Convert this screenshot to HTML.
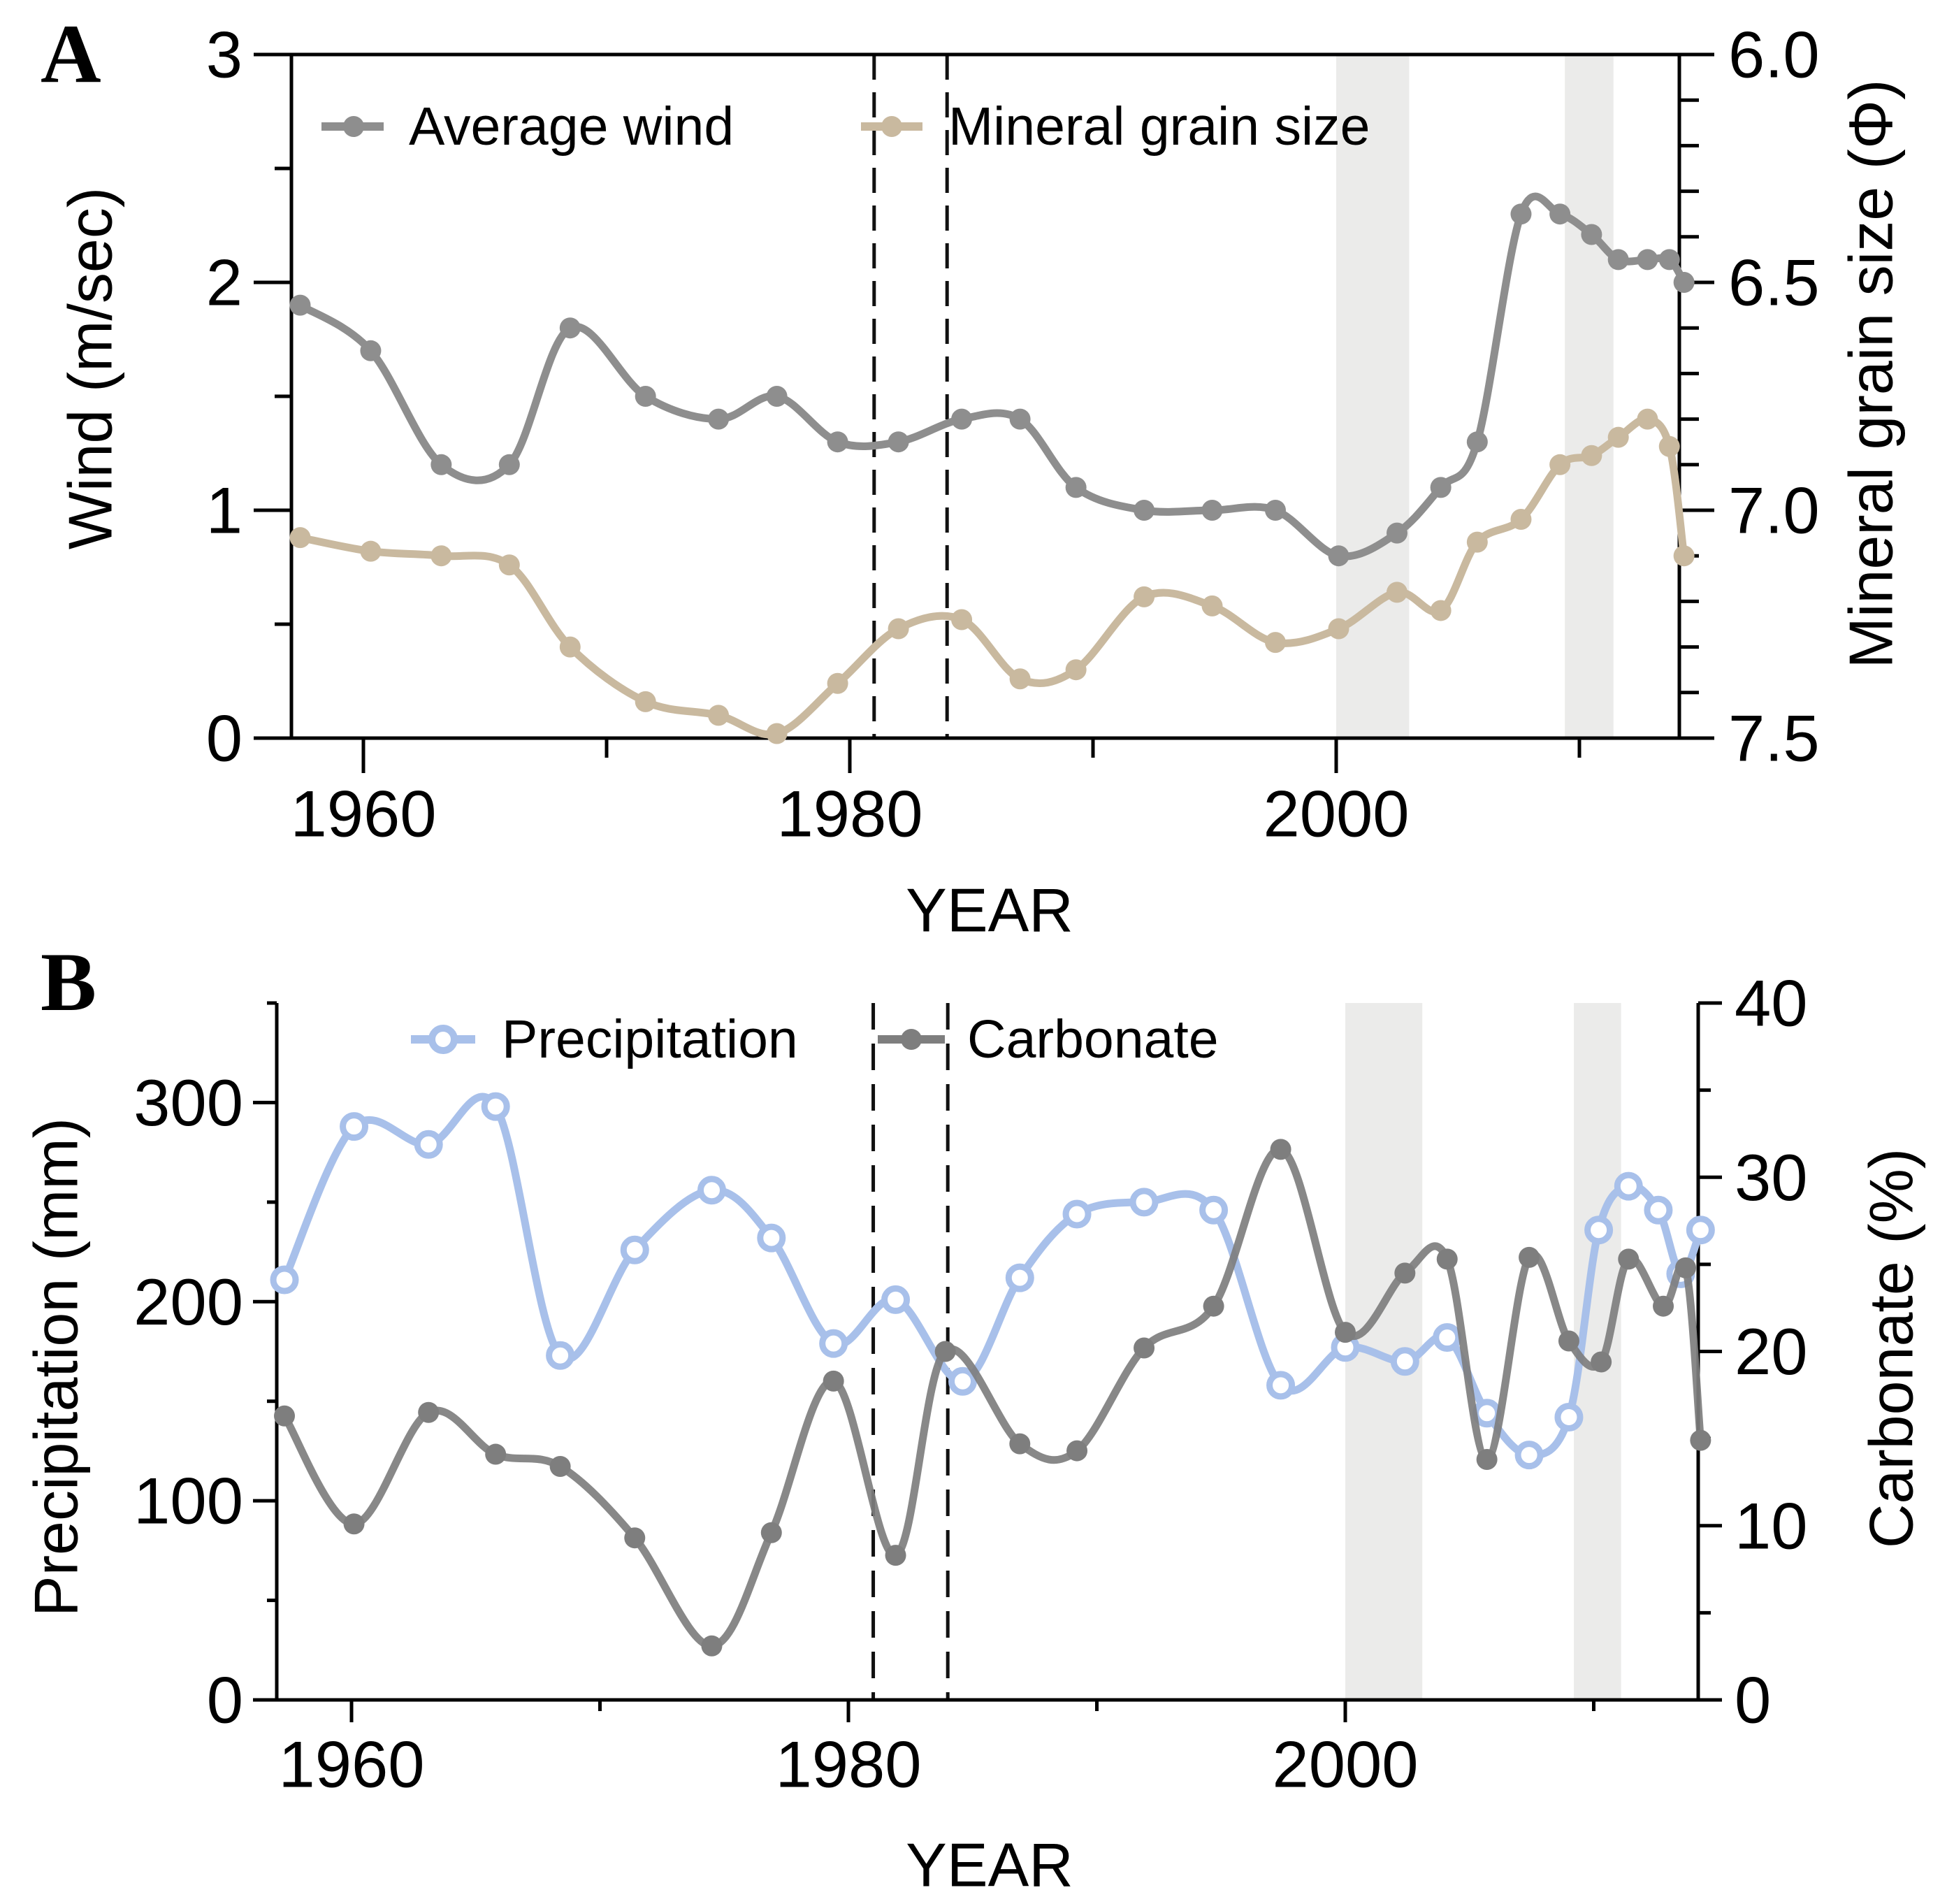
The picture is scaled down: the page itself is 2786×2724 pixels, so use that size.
<!DOCTYPE html>
<html><head><meta charset="utf-8"><style>
html,body{margin:0;padding:0;background:#fff;}
svg{display:block;font-family:"Liberation Sans",Arial,sans-serif;}
</style></head><body>
<svg id="fig" width="2786" height="2724" viewBox="0 0 2786 2724" xmlns="http://www.w3.org/2000/svg">
<rect width="2786" height="2724" fill="#fff"/>
<g id="panelA"></g>
<g id="panelB"></g>
</svg>
<script>
// ---- Panel A data ----
const windYears = [1957.4,1960.3,1963.2,1966.0,1968.5,1971.6,1974.6,1977.0,1979.5,1982.0,1984.6,1987.0,1989.3,1992.1,1994.9,1997.5,2000.1,2002.5,2004.3,2005.8,2007.6,2009.2,2010.5,2011.6,2012.8,2013.7,2014.3];
const windValues = [1.90,1.70,1.20,1.20,1.80,1.50,1.40,1.50,1.30,1.30,1.40,1.40,1.10,1.00,1.00,1.00,0.80,0.90,1.10,1.30,2.30,2.30,2.21,2.10,2.10,2.10,2.00];
const grainYears = [1957.4,1960.3,1963.2,1966.0,1968.5,1971.6,1974.6,1977.0,1979.5,1982.0,1984.6,1987.0,1989.3,1992.1,1994.9,1997.5,2000.1,2002.5,2004.3,2005.8,2007.6,2009.2,2010.5,2011.6,2012.8,2013.7,2014.3];
const grainPhi = [7.06,7.09,7.10,7.12,7.30,7.42,7.45,7.49,7.38,7.26,7.24,7.37,7.35,7.19,7.21,7.29,7.26,7.18,7.22,7.07,7.02,6.90,6.88,6.84,6.80,6.86,7.10];
const windTicks = [0,1,2,3];
const windTickLabels = ["0","1","2","3"];
const phiTicks = [6.0,6.5,7.0,7.5];
const phiTickLabels = ["6.0","6.5","7.0","7.5"];
const yearTicks = [1960,1980,2000];
const yearTickLabels = ["1960","1980","2000"];
const yearMinorTicks = [1970,1990,2010];
const dashYears = [1981,1984];
const bandsA = [[2000,2003],[2009.4,2011.4]];
// ---- Panel B data ----
const precipYears = [1957.3,1960.1,1963.1,1965.8,1968.4,1971.4,1974.5,1976.9,1979.4,1981.9,1984.6,1986.9,1989.2,1991.9,1994.7,1997.4,2000.0,2002.4,2004.1,2005.7,2007.4,2009.0,2010.2,2011.4,2012.6,2013.5,2014.3];
const precipValues = [211,288,279,298,173,226,256,232,179,201,160,212,244,250,246,158,177,170,182,144,123,142,236,258,246,214,236];
const carbYears = [1957.3,1960.1,1963.1,1965.8,1968.4,1971.4,1974.5,1976.9,1979.4,1981.9,1983.9,1986.9,1989.2,1991.9,1994.7,1997.4,2000.0,2002.4,2004.1,2005.7,2007.4,2009.0,2010.3,2011.4,2012.8,2013.7,2014.3];
const carbValues = [16.3,10.1,16.5,14.1,13.4,9.3,3.1,9.6,18.3,8.3,20.0,14.7,14.3,20.2,22.6,31.6,21.1,24.5,25.3,13.8,25.4,20.6,19.4,25.3,22.6,24.8,14.9];
const precipTicks = [0,100,200,300];
const precipTickLabels = ["0","100","200","300"];
const carbTicks = [0,10,20,30,40];
const carbTickLabels = ["0","10","20","30","40"];
const bandsB = [[2000,2003.1],[2009.2,2011.1]];

const NS = "http://www.w3.org/2000/svg";
const TICKFONT = 94;
function mk(parent, tag, attrs, text){
  const e = document.createElementNS(NS, tag);
  for (const k in attrs) e.setAttribute(k, attrs[k]);
  if (text !== undefined) e.textContent = text;
  parent.appendChild(e);
  return e;
}
function smoothPath(pts){
  let d = "M" + pts[0][0].toFixed(1) + "," + pts[0][1].toFixed(1);
  for (let i = 0; i < pts.length - 1; i++){
    const p0 = pts[Math.max(0,i-1)], p1 = pts[i], p2 = pts[i+1], p3 = pts[Math.min(pts.length-1,i+2)];
    const c1x = p1[0] + (p2[0]-p0[0])/6, c1y = p1[1] + (p2[1]-p0[1])/6;
    const c2x = p2[0] - (p3[0]-p1[0])/6, c2y = p2[1] - (p3[1]-p1[1])/6;
    d += " C" + c1x.toFixed(1)+","+c1y.toFixed(1)+" "+c2x.toFixed(1)+","+c2y.toFixed(1)+" "+p2[0].toFixed(1)+","+p2[1].toFixed(1);
  }
  return d;
}

// ================= PANEL A =================
(function(){
  const g = document.getElementById("panelA");
  const L = 417, R = 2403, T = 78, B = 1056;
  const x = yr => 520 + (yr - 1960) * 34.8;
  const yW = v => B - (v / 3) * (B - T);
  const yP = p => T + ((p - 6.0) / 1.5) * (B - T);

  bandsA.forEach(b => {
    const r = mk(g, "rect", {x: x(b[0]), y: T, width: x(b[1]) - x(b[0]), height: B - T, fill: "#ebebea"});
    
    
  });
  dashYears.forEach(yr => {
    const l = mk(g, "line", {x1: x(yr), x2: x(yr), y1: T, y2: B, stroke: "#111", "stroke-width": 5, "stroke-dasharray": "36,18"});
    
    
  });

  const ax = mk(g, "path", {d: `M${L},${T} L${L},${B} L${R},${B} L${R},${T} Z`, fill: "none", stroke: "#000", "stroke-width": 5});
  
  

  windTicks.forEach((v, i) => {
    mk(g, "line", {x1: L - 54, x2: L, y1: yW(v), y2: yW(v), stroke: "#000", "stroke-width": 5});
    const t = mk(g, "text", {x: L - 70, y: yW(v), "font-size": TICKFONT, "text-anchor": "end", "dominant-baseline": "central"}, windTickLabels[i]);
    
    
  });
  [0.5, 1.5, 2.5].forEach(v => mk(g, "line", {x1: L - 24, x2: L, y1: yW(v), y2: yW(v), stroke: "#000", "stroke-width": 5}));
  for (let p = 6.0; p <= 7.501; p += 0.1) {
    const major = Math.abs(p * 2 - Math.round(p * 2)) < 1e-6;
    mk(g, "line", {x1: R, x2: R + (major ? 50 : 28), y1: yP(p), y2: yP(p), stroke: "#000", "stroke-width": 5});
  }
  phiTicks.forEach((p, i) => {
    const t = mk(g, "text", {x: R + 70, y: yP(p), "font-size": TICKFONT, "dominant-baseline": "central"}, phiTickLabels[i]);
    
    
  });
  yearTicks.forEach((yr, i) => {
    mk(g, "line", {x1: x(yr), x2: x(yr), y1: B, y2: B + 50, stroke: "#000", "stroke-width": 5});
    const t = mk(g, "text", {x: x(yr), y: B + 108, "font-size": TICKFONT, "text-anchor": "middle", "dominant-baseline": "central"}, yearTickLabels[i]);
    
    
  });
  yearMinorTicks.forEach(yr => mk(g, "line", {x1: x(yr), x2: x(yr), y1: B, y2: B + 28, stroke: "#000", "stroke-width": 5}));

  const wp = windYears.map((yr, i) => [x(yr), yW(windValues[i])]);
  const gp = grainYears.map((yr, i) => [x(yr), yP(grainPhi[i])]);
  const gl = mk(g, "path", {d: smoothPath(gp), fill: "none", stroke: "#c9b99f", "stroke-width": 11, "stroke-linejoin": "round"});
  
  
  gp.forEach(p => {
    const c = mk(g, "circle", {cx: p[0], cy: p[1], r: 15, fill: "#c9b99f"});
    
    
  });
  const wl = mk(g, "path", {d: smoothPath(wp), fill: "none", stroke: "#8e8e8e", "stroke-width": 11, "stroke-linejoin": "round"});
  
  
  wp.forEach(p => {
    const c = mk(g, "circle", {cx: p[0], cy: p[1], r: 15, fill: "#8e8e8e"});
    
    
  });

  const lg1 = mk(g, "g", {});
  
  
  mk(lg1, "line", {x1: 460, x2: 549, y1: 181, y2: 181, stroke: "#8e8e8e", "stroke-width": 12});
  mk(lg1, "circle", {cx: 506, cy: 181, r: 15, fill: "#8e8e8e"});
  mk(lg1, "text", {x: 585, y: 181, "font-size": 77, "dominant-baseline": "central"}, "Average wind");
  const lg2 = mk(g, "g", {});
  
  
  mk(lg2, "line", {x1: 1232, x2: 1320, y1: 181, y2: 181, stroke: "#c9b99f", "stroke-width": 12});
  mk(lg2, "circle", {cx: 1276, cy: 181, r: 15, fill: "#c9b99f"});
  mk(lg2, "text", {x: 1357, y: 181, "font-size": 77, "dominant-baseline": "central"}, "Mineral grain size");

  const t1 = mk(g, "text", {x: 0, y: 0, "font-size": 88, "text-anchor": "middle", "dominant-baseline": "central", transform: "translate(129,527) rotate(-90)"}, "Wind (m/sec)");
  
  
  const t2 = mk(g, "text", {x: 0, y: 0, "font-size": 88, "text-anchor": "middle", "dominant-baseline": "central", transform: "translate(2677,535) rotate(-90)"}, "Mineral grain size  (Φ)");
  
  
  const t3 = mk(g, "text", {x: 1416, y: 1302, "font-size": 88, "text-anchor": "middle", "dominant-baseline": "central"}, "YEAR");
  
  
  const pl = mk(g, "text", {x: 58, y: 117, "font-size": 120, "font-weight": "bold", "font-family": "Liberation Serif, serif"}, "A");
  
  
})();

// ================= PANEL B =================
(function(){
  const g = document.getElementById("panelB");
  const L = 396, R = 2430, T = 1435, B = 2432;
  const x = yr => 503 + (yr - 1960) * 35.55;
  const yPr = v => B - (v / 350) * (B - T);
  const yC = v => B - (v / 40) * (B - T);

  bandsB.forEach(b => {
    const r = mk(g, "rect", {x: x(b[0]), y: T, width: x(b[1]) - x(b[0]), height: B - T, fill: "#ebebea"});
    
    
  });
  dashYears.forEach(yr => {
    const l = mk(g, "line", {x1: x(yr), x2: x(yr), y1: T, y2: B, stroke: "#111", "stroke-width": 5, "stroke-dasharray": "38,20"});
    
    
  });

  const ax = mk(g, "path", {d: `M${L},${T} L${L},${B} L${R},${B} L${R},${T}`, fill: "none", stroke: "#000", "stroke-width": 5});
  
  

  precipTicks.forEach((v, i) => {
    mk(g, "line", {x1: L - 34, x2: L, y1: yPr(v), y2: yPr(v), stroke: "#000", "stroke-width": 5});
    const t = mk(g, "text", {x: L - 48, y: yPr(v), "font-size": TICKFONT, "text-anchor": "end", "dominant-baseline": "central"}, precipTickLabels[i]);
    
    
  });
  [50, 150, 250, 350].forEach(v => mk(g, "line", {x1: L - 14, x2: L, y1: yPr(v), y2: yPr(v), stroke: "#000", "stroke-width": 5}));
  carbTicks.forEach((v, i) => {
    mk(g, "line", {x1: R, x2: R + 34, y1: yC(v), y2: yC(v), stroke: "#000", "stroke-width": 5});
    const t = mk(g, "text", {x: R + 52, y: yC(v), "font-size": TICKFONT, "dominant-baseline": "central"}, carbTickLabels[i]);
    
    
  });
  [5, 15, 25, 35].forEach(v => mk(g, "line", {x1: R, x2: R + 18, y1: yC(v), y2: yC(v), stroke: "#000", "stroke-width": 5}));
  yearTicks.forEach((yr, i) => {
    mk(g, "line", {x1: x(yr), x2: x(yr), y1: B, y2: B + 32, stroke: "#000", "stroke-width": 5});
    const t = mk(g, "text", {x: x(yr), y: B + 92, "font-size": TICKFONT, "text-anchor": "middle", "dominant-baseline": "central"}, yearTickLabels[i]);
    
    
  });
  yearMinorTicks.forEach(yr => mk(g, "line", {x1: x(yr), x2: x(yr), y1: B, y2: B + 16, stroke: "#000", "stroke-width": 5}));

  const pp = precipYears.map((yr, i) => [x(yr), yPr(precipValues[i])]);
  const cp = carbYears.map((yr, i) => [x(yr), yC(carbValues[i])]);
  const pline = mk(g, "path", {d: smoothPath(pp), fill: "none", stroke: "#a8c0ea", "stroke-width": 11, "stroke-linejoin": "round"});
  
  
  pp.forEach(p => {
    const c = mk(g, "circle", {cx: p[0], cy: p[1], r: 16, fill: "#fff", stroke: "#a8c0ea", "stroke-width": 9});
    
    
  });
  const cline = mk(g, "path", {d: smoothPath(cp), fill: "none", stroke: "#7e7e7e", "stroke-width": 11, "stroke-linejoin": "round", opacity: 0.92});
  
  
  cp.forEach(p => {
    const c = mk(g, "circle", {cx: p[0], cy: p[1], r: 15, fill: "#7e7e7e"});
    
    
  });

  const lg1 = mk(g, "g", {});
  
  
  mk(lg1, "line", {x1: 588, x2: 680, y1: 1487, y2: 1487, stroke: "#a8c0ea", "stroke-width": 12});
  mk(lg1, "circle", {cx: 634, cy: 1487, r: 16, fill: "#fff", stroke: "#a8c0ea", "stroke-width": 10});
  mk(lg1, "text", {x: 718, y: 1487, "font-size": 77, "dominant-baseline": "central"}, "Precipitation");
  const lg2 = mk(g, "g", {});
  
  
  mk(lg2, "line", {x1: 1256, x2: 1352, y1: 1487, y2: 1487, stroke: "#7e7e7e", "stroke-width": 12});
  mk(lg2, "circle", {cx: 1304, cy: 1487, r: 15, fill: "#7e7e7e"});
  mk(lg2, "text", {x: 1384, y: 1487, "font-size": 77, "dominant-baseline": "central"}, "Carbonate");

  const t1 = mk(g, "text", {x: 0, y: 0, "font-size": 88, "text-anchor": "middle", "dominant-baseline": "central", transform: "translate(80,1956) rotate(-90)"}, "Precipitation (mm)");
  
  
  const t2 = mk(g, "text", {x: 0, y: 0, "font-size": 88, "text-anchor": "middle", "dominant-baseline": "central", transform: "translate(2706,1929) rotate(-90)"}, "Carbonate (%)");
  
  
  const t3 = mk(g, "text", {x: 1416, y: 2668, "font-size": 88, "text-anchor": "middle", "dominant-baseline": "central"}, "YEAR");
  
  
  const pl = mk(g, "text", {x: 58, y: 1445, "font-size": 120, "font-weight": "bold", "font-family": "Liberation Serif, serif"}, "B");
  
  
})();
</script>
</body></html>
